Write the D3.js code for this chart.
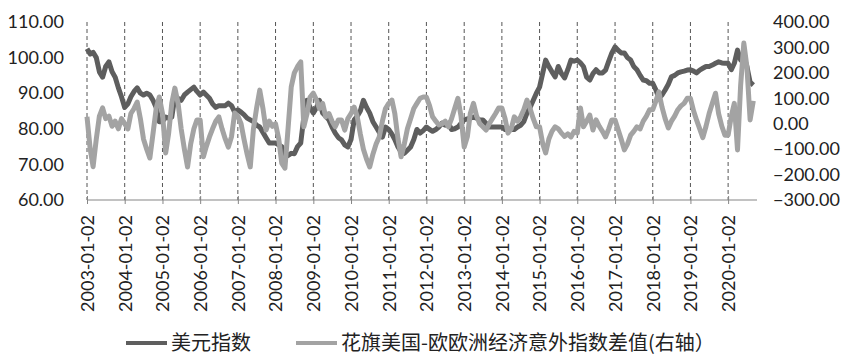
<!DOCTYPE html>
<html><head><meta charset="utf-8">
<script src="https://cdn.jsdelivr.net/npm/d3@7"></script>
<style>body{margin:0;background:#fff}svg{display:block}</style>
</head><body><svg id="c" width="845" height="361"></svg>
<script>
const yearTicks = ["2003-01-02","2004-01-02","2005-01-02","2006-01-02","2007-01-02","2008-01-02","2009-01-02","2010-01-02","2011-01-02","2012-01-02","2013-01-02","2014-01-02","2015-01-02","2016-01-02","2017-01-02","2018-01-02","2019-01-02","2020-01-02"];
const seriesStart = "2003-01-02";
const axisEnd = "2020-09-28";
const usdIndex = [
102.5,101,101.5,100,96,94.5,97.5,98.8,96,94.5,91.5,89,
86,87,89,90.5,91.5,90,89.5,90,89.5,88,86,82,
82,83.3,83,83.3,89,88.5,88,89.5,90.3,91,91.7,90.5,
89.5,90.3,89.5,88.6,87,86,86.5,86.5,86.5,87.2,86.5,84.7,
85.3,84.7,84,83,82.5,82,81,80.5,79,77.5,76,76,
76,75.5,75,72.1,72.5,73.1,73,75,76,83.3,88,86,
84.4,86,88,84.4,83.5,82.5,80.5,78.8,77.5,76.9,75.5,74.9,
77,82.5,83.5,85,88,86,84.4,82,80.5,79,77.7,80.5,
79.8,78.5,77,74.9,73.5,73.1,74,74.9,77,79.8,78.8,79.5,
80.5,79.8,79.3,79.8,80.5,81.6,81,81.6,79.8,80,80.5,81.5,
82.5,82.8,83,83.3,83,82.5,82.5,81.5,80.5,80.5,80.5,80.5,
80.5,79.8,80,79.8,79.8,80.5,81,82,84.4,86,88,90,
91.7,95.7,99.3,97.5,96,94.6,97.5,95.5,94.3,96.6,99.3,99,
99.3,98.5,97.5,94.5,93.7,95.5,96.6,95.7,95.7,96.5,99,101.3,
103,102,101.3,101.3,100,99.3,97.5,96.6,95,93.7,93.5,92.8,
92.8,90.9,88.6,89.5,90.9,92.5,94.6,95,95.7,96,96.2,96.5,
96.6,96.2,95.7,96.5,97,97.5,97.5,97.9,98.4,98.8,98.5,98.4,
98.4,96.6,98.4,102.1,99.3,100.2,97.5,93.1,92.3];
const surpriseDiff = [
27,-100,-169,-60,30,62,20,30,-10,10,-20,20,
0,-20,40,60,85,20,-60,-100,-135,-40,60,105,
40,-115,-40,80,140,80,-20,-100,-170,-80,-20,15,
15,-130,-90,-52,-20,10,27,-20,-60,-92,-50,42,
30,0,-60,-120,-170,-20,60,132,60,-25,10,-10,
0,-60,-155,-175,-20,145,200,225,243,-12,40,105,
120,93,60,80,27,40,10,-12,15,15,-25,20,
40,65,30,-40,-100,-140,-170,-120,-80,-52,10,60,
80,93,40,-60,-130,-80,-20,20,60,80,100,105,
105,70,27,10,-5,0,10,-12,20,60,100,30,
-92,-50,40,80,30,0,-12,-25,0,20,40,62,
62,20,-37,-20,27,10,27,55,93,60,20,-12,
-12,-80,-115,-60,-30,-12,-20,-37,-50,-40,-52,-30,
-37,62,-12,10,34,-25,15,-10,-30,-52,-20,15,
15,-25,-60,-103,-80,-45,-30,-12,-20,10,30,55,
55,90,125,65,20,-17,10,30,55,70,80,100,
100,50,15,-20,-55,-10,40,80,120,40,-10,-45,
-45,30,80,-103,150,317,224,15,90];
const leftTicks = [60,70,80,90,100,110];
const rightTicks = [-300,-200,-100,0,100,200,300,400];
const legendLabels = ["美元指数","花旗美国-欧欧洲经济意外指数差值(右轴）"];

const svg = d3.select("#c");
const parse = d3.timeParse("%Y-%m-%d");
const start = parse(seriesStart);
const x = d3.scaleTime().domain([start, parse(axisEnd)]).range([87, 756]);
const yL = d3.scaleLinear().domain([60, 110]).range([200, 22]);
const yR = d3.scaleLinear().domain([-300, 400]).range([200, 22]);
const font = "Lato, 'Noto Sans', sans-serif";
const cjk = "'Noto Sans CJK SC', sans-serif";
const darkC = "#5e5e5e", lightC = "#a3a3a3";

// gridlines
svg.append("g").selectAll("line").data(yearTicks).join("line")
  .attr("x1", d => x(parse(d))).attr("x2", d => x(parse(d)))
  .attr("y1", 22).attr("y2", 200)
  .attr("stroke", "#555").attr("stroke-width", 1).attr("stroke-dasharray", "4,3");

// x axis
const xAxis = d3.axisBottom(x).tickValues(yearTicks.map(parse)).tickSize(4).tickSizeOuter(0).tickFormat(d3.timeFormat("%Y-%m-%d"));
const gx = svg.append("g").attr("transform", "translate(0,200)").call(xAxis);
gx.select(".domain").attr("stroke", "#868686").attr("stroke-width", 1.2).attr("d", "M87,0H757");
gx.selectAll(".tick line").attr("stroke", "#868686").attr("y1", -4).attr("y2", 4);
gx.selectAll(".tick text").attr("font-family", font).attr("font-size", 18).attr("fill", "#222")
  .attr("text-anchor", "end").attr("transform", "translate(0,15) rotate(-90)").attr("x", 0).attr("y", 0).attr("dy", "0.35em");

// left axis
const gl = svg.append("g").attr("transform", "translate(64,0)").call(d3.axisLeft(yL).tickValues(leftTicks).tickSize(0).tickFormat(d3.format(".2f")));
gl.select(".domain").remove();
gl.selectAll("text").attr("font-family", font).attr("font-size", 18).attr("fill", "#222").attr("x", 0);

// right axis
const gr = svg.append("g").attr("transform", "translate(773,0)").call(d3.axisRight(yR).tickValues(rightTicks).tickSize(0).tickFormat(d3.format(".2f")));
gr.select(".domain").remove();
gr.selectAll("text").attr("font-family", font).attr("font-size", 18).attr("fill", "#222").attr("x", 0);

const dates = usdIndex.map((_, i) => d3.timeMonth.offset(start, i));
const lineL = d3.line().x((d, i) => x(dates[i])).y(d => yL(d));
const lineR = d3.line().x((d, i) => x(dates[i])).y(d => yR(d));
svg.append("path").datum(usdIndex).attr("d", lineL).attr("fill", "none").attr("stroke", darkC).attr("stroke-width", 5).attr("stroke-linejoin", "round");
svg.append("path").datum(surpriseDiff).attr("d", lineR).attr("fill", "none").attr("stroke", lightC).attr("stroke-width", 5).attr("stroke-linejoin", "round");

// legend
const leg = [{c: darkC, x: 126, t: legendLabels[0]}, {c: lightC, x: 296, t: legendLabels[1]}];
const lg = svg.append("g");
leg.forEach(l => {
  lg.append("line").attr("x1", l.x).attr("x2", l.x + 41).attr("y1", 343).attr("y2", 343).attr("stroke", l.c).attr("stroke-width", 4);
  lg.append("text").attr("x", l.x + 45).attr("y", 343).attr("dy", "0.35em").attr("font-family", cjk).attr("font-size", 20).attr("fill", "#222").text(l.t);
});
</script></body></html>
